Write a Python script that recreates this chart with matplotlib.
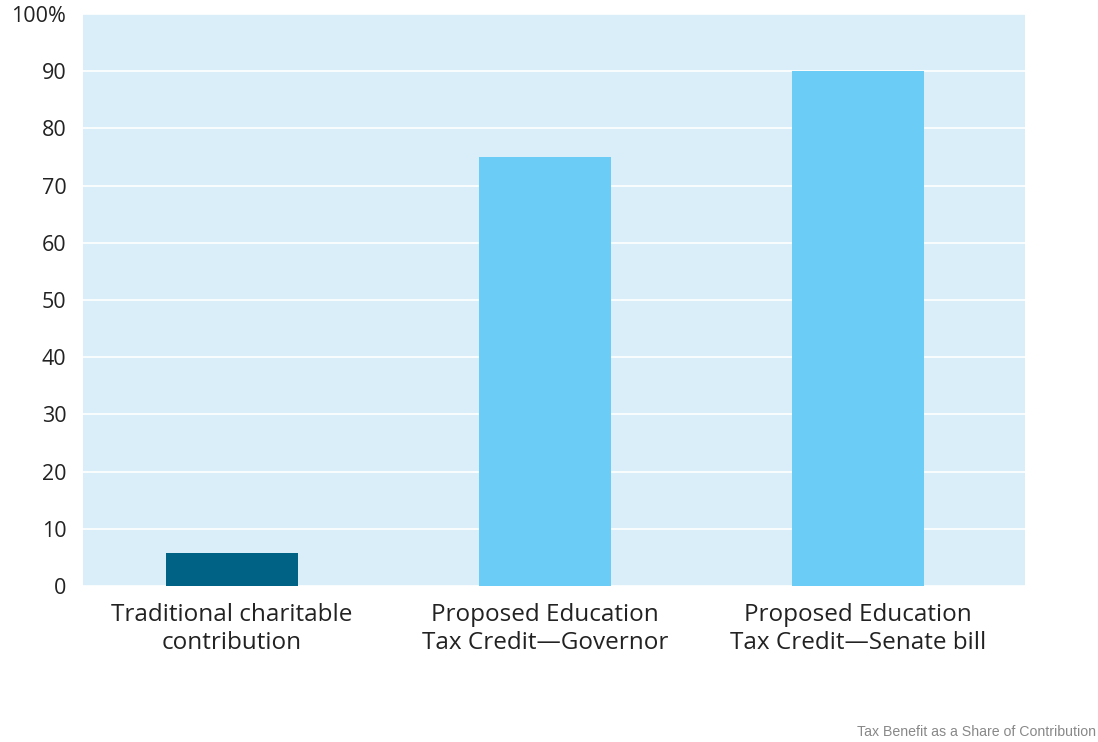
import matplotlib
matplotlib.use("Agg")
import matplotlib.pyplot as plt

categories = ["Traditional charitable\ncontribution",
              "Proposed Education\nTax Credit\u2014Governor",
              "Proposed Education\nTax Credit\u2014Senate bill"]
values = [5.8, 75, 90]
bar_colors = ["#006385", "#6bcdf5", "#6bcdf5"]
yticks = [0, 10, 20, 30, 40, 50, 60, 70, 80, 90, 100]
ytick_labels = ["0", "10", "20", "30", "40", "50", "60", "70", "80", "90", "100%"]

plt.rcParams['font.family'] = ['Open Sans', 'DejaVu Sans']

fig = plt.figure(figsize=(10.98, 7.42), dpi=100)
ax = fig.add_axes([0.0756, 0.2102, 0.8579, 0.7709])
ax.set_facecolor("#daeef9")

x = range(len(categories))
ax.bar(x, values, width=0.42, color=bar_colors, zorder=3)

ax.set_xlim(-0.476, 2.534)
ax.set_ylim(0, 100)
ax.set_yticks(yticks)
ax.set_yticklabels(ytick_labels, fontsize=15.5, color="#222222")
ax.set_xticks(list(x))
ax.set_xticklabels(categories, fontsize=17.5, color="#222222", linespacing=1.22)
ax.tick_params(length=0, axis='y', pad=12)
ax.tick_params(length=0, axis='x', pad=12)
ax.yaxis.grid(True, color="white", linewidth=1.2, zorder=1)
for s in ax.spines.values():
    s.set_visible(False)

fig.text(0.998, 0.004, "Tax Benefit as a Share of Contribution", ha="right", va="bottom",
         fontsize=10.2, color="#888888", family="Liberation Sans")

fig.savefig("out.png", dpi=100)
